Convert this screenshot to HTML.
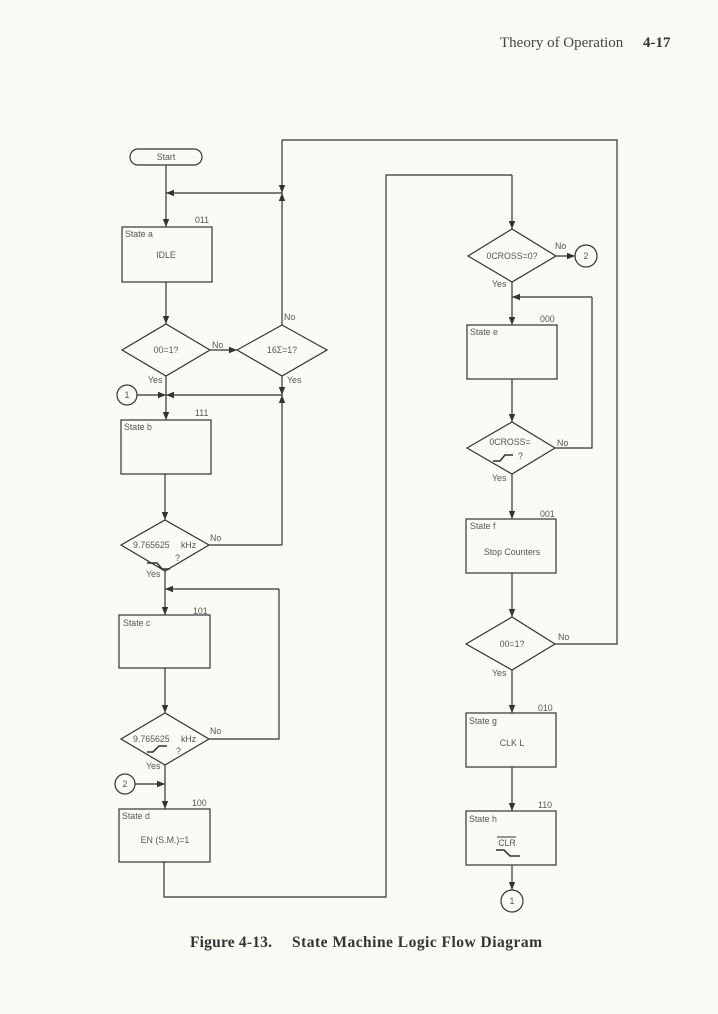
<!DOCTYPE html>
<html><head><meta charset="utf-8"><style>
html,body{margin:0;padding:0;background:#fbfaf4;}
svg{display:block;}
text{font-family:"Liberation Sans",sans-serif;fill:#555;font-size:8.8px;}
.t{font-family:"Liberation Serif",serif;}
</style></head><body>
<svg width="718" height="1014" viewBox="0 0 718 1014" xmlns="http://www.w3.org/2000/svg">
<defs>
<marker id="a" viewBox="0 0 10 10" refX="10" refY="5" markerWidth="8" markerHeight="8" orient="auto-start-reverse" markerUnits="userSpaceOnUse"><path d="M0,1 L10,5 L0,9 z" fill="#333"/></marker>
</defs>
<text x="500" y="47" class="t" style="font-size:15px;fill:#444">Theory of Operation</text>
<text x="643" y="47" class="t" style="font-size:15px;font-weight:bold;fill:#333">4-17</text>

<g stroke="#333" stroke-width="1.2" fill="none">
<rect x="130" y="149" width="72" height="16" rx="8" fill="#fbfaf4"/>
<line x1="166" y1="165" x2="166" y2="227" marker-end="url(#a)"/>
<line x1="282" y1="193" x2="166" y2="193" marker-end="url(#a)"/>
<rect x="122" y="227" width="90" height="55"/>
<line x1="166" y1="282" x2="166" y2="324" marker-end="url(#a)"/>
<polygon points="122,350 166,324 210,350 166,376"/>
<line x1="210" y1="350" x2="237" y2="350" marker-end="url(#a)"/>
<polygon points="237,350 282,325 327,350 282,376"/>
<line x1="282" y1="325" x2="282" y2="193" marker-end="url(#a)"/>
<polyline points="282,140 617,140 617,644 555,644"/>
<line x1="282" y1="140" x2="282" y2="193" marker-end="url(#a)"/>
<line x1="282" y1="376" x2="282" y2="395" marker-end="url(#a)"/>
<line x1="282" y1="545" x2="282" y2="395" marker-end="url(#a)"/>
<line x1="282" y1="395" x2="166" y2="395" marker-end="url(#a)"/>
<circle cx="127" cy="395" r="10"/>
<line x1="137" y1="395" x2="166" y2="395" marker-end="url(#a)"/>
<line x1="166" y1="376" x2="166" y2="420" marker-end="url(#a)"/>
<rect x="121" y="420" width="90" height="54"/>
<line x1="165" y1="474" x2="165" y2="520" marker-end="url(#a)"/>
<polygon points="121,545 165,520 209,545 165,571"/>
<polyline points="209,545 282,545"/>
<line x1="165" y1="571" x2="165" y2="615" marker-end="url(#a)"/>
<polyline points="209,739 279,739 279,589"/>
<line x1="279" y1="589" x2="165" y2="589" marker-end="url(#a)"/>
<rect x="119" y="615" width="91" height="53"/>
<line x1="165" y1="668" x2="165" y2="713" marker-end="url(#a)"/>
<polygon points="121,739 165,713 209,739 165,765"/>
<line x1="165" y1="765" x2="165" y2="809" marker-end="url(#a)"/>
<circle cx="125" cy="784" r="10"/>
<line x1="135" y1="784" x2="165" y2="784" marker-end="url(#a)"/>
<rect x="119" y="809" width="91" height="53"/>
<polyline points="164,862 164,897 386,897 386,175 512,175"/>
<line x1="512" y1="175" x2="512" y2="229" marker-end="url(#a)"/>
<polygon points="468,256 512,229 556,256 512,282"/>
<line x1="556" y1="256" x2="575" y2="256" marker-end="url(#a)"/>
<circle cx="586" cy="256" r="11"/>
<line x1="512" y1="282" x2="512" y2="325" marker-end="url(#a)"/>
<polyline points="555,448 592,448 592,297"/>
<line x1="592" y1="297" x2="512" y2="297" marker-end="url(#a)"/>
<rect x="467" y="325" width="90" height="54"/>
<line x1="512" y1="379" x2="512" y2="422" marker-end="url(#a)"/>
<polygon points="467,448 512,422 555,448 512,474"/>
<line x1="512" y1="474" x2="512" y2="519" marker-end="url(#a)"/>
<rect x="466" y="519" width="90" height="54"/>
<line x1="512" y1="573" x2="512" y2="617" marker-end="url(#a)"/>
<polygon points="466,644 512,617 555,644 512,670"/>
<line x1="512" y1="670" x2="512" y2="713" marker-end="url(#a)"/>
<rect x="466" y="713" width="90" height="54"/>
<line x1="512" y1="767" x2="512" y2="811" marker-end="url(#a)"/>
<rect x="466" y="811" width="90" height="54"/>
<line x1="512" y1="865" x2="512" y2="890" marker-end="url(#a)"/>
<circle cx="512" cy="901" r="11"/>
<polyline points="147,563 157,563 162,569 170,569" stroke-width="1.6"/>
<polyline points="147,752 153,752 159,746 167,746" stroke-width="1.6"/>
<polyline points="493,461 500,461 505,455 513,455" stroke-width="1.6"/>
<polyline points="496,850 504,850 510,856 520,856" stroke-width="1.6"/>
<line x1="497" y1="837" x2="516" y2="837" stroke-width="1"/>
</g>

<text x="166" y="160" text-anchor="middle">Start</text>
<text x="195" y="223">011</text>
<text x="125" y="237">State a</text>
<text x="166" y="258" text-anchor="middle">IDLE</text>
<text x="166" y="353" text-anchor="middle">00=1?</text>
<text x="212" y="348">No</text>
<text x="282" y="353" text-anchor="middle">16Σ=1?</text>
<text x="284" y="320">No</text>
<text x="148" y="383">Yes</text>
<text x="287" y="383">Yes</text>
<text x="127" y="398" text-anchor="middle">1</text>
<text x="195" y="416">111</text>
<text x="124" y="430">State b</text>
<text x="133" y="548">9.765625</text>
<text x="181" y="548">kHz</text>
<text x="175" y="561">?</text>
<text x="210" y="541">No</text>
<text x="146" y="577">Yes</text>
<text x="193" y="614">101</text>
<text x="123" y="626">State c</text>
<text x="133" y="742">9.765625</text>
<text x="181" y="742">kHz</text>
<text x="176" y="754">?</text>
<text x="210" y="734">No</text>
<text x="146" y="769">Yes</text>
<text x="125" y="787" text-anchor="middle">2</text>
<text x="192" y="806">100</text>
<text x="122" y="819">State d</text>
<text x="165" y="843" text-anchor="middle">EN (S.M.)=1</text>
<text x="512" y="259" text-anchor="middle">0CROSS=0?</text>
<text x="555" y="249">No</text>
<text x="586" y="259" text-anchor="middle">2</text>
<text x="492" y="287">Yes</text>
<text x="540" y="322">000</text>
<text x="470" y="335">State e</text>
<text x="510" y="445" text-anchor="middle">0CROSS=</text>
<text x="518" y="459">?</text>
<text x="557" y="446">No</text>
<text x="492" y="481">Yes</text>
<text x="540" y="517">001</text>
<text x="470" y="529">State f</text>
<text x="512" y="555" text-anchor="middle">Stop Counters</text>
<text x="512" y="647" text-anchor="middle">00=1?</text>
<text x="558" y="640">No</text>
<text x="492" y="676">Yes</text>
<text x="538" y="711">010</text>
<text x="469" y="724">State g</text>
<text x="512" y="746" text-anchor="middle">CLK L</text>
<text x="538" y="808">110</text>
<text x="469" y="822">State h</text>
<text x="507" y="846" text-anchor="middle">CLR</text>
<text x="512" y="904" text-anchor="middle">1</text>

<text x="190" y="947" class="t" textLength="82" style="font-size:15.5px;font-weight:bold;fill:#333">Figure 4-13.</text>
<text x="292" y="947" class="t" textLength="250" style="font-size:15.5px;font-weight:bold;fill:#333">State Machine Logic Flow Diagram</text>
</svg>
</body></html>
